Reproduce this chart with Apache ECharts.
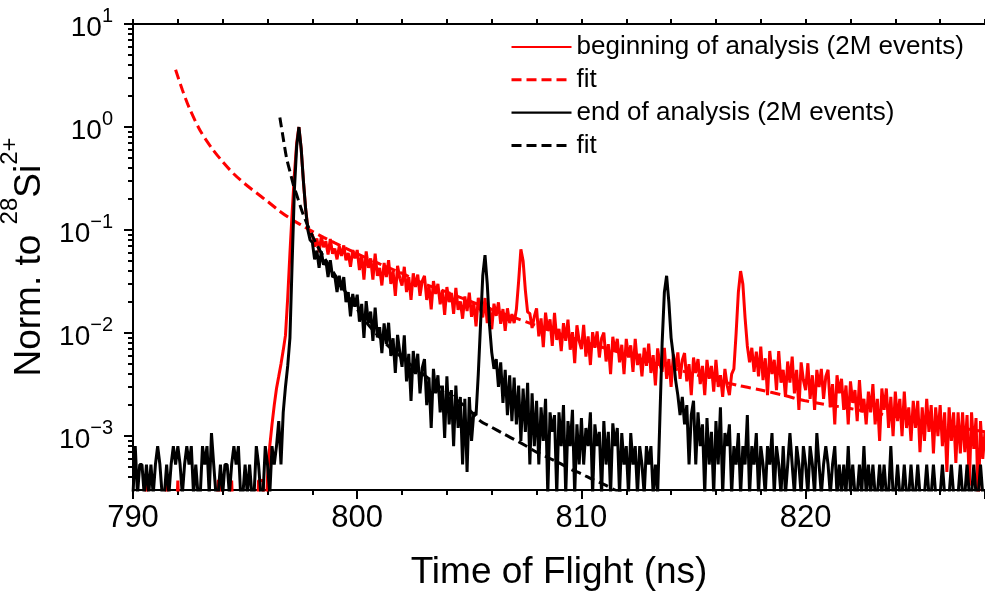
<!DOCTYPE html>
<html><head><meta charset="utf-8">
<script src="https://cdn.jsdelivr.net/npm/echarts@6/dist/echarts.min.js"></script>
<style>html,body{margin:0;padding:0;background:#fff}#c{width:985px;height:592px}</style>
</head><body><div id="c"></div>
<script>
// ---- time-of-flight bins (ns) ----
const tofStart = 790.0;
const tofStep = 0.1;

// ---- "beginning of analysis (2M events)" normalised counts, one per 0.1 ns bin, 790.0 .. 828.0 ----
const beginCounts = [
0,0,0,0,0,0,0.00037,0,0,0,
0,0,0,0,0,0.00037,0,0,0,0,
0.00037,0,0,0,0,0,0,0,0,0,
0,0,0,0,0,0,0,0,0.00037,0.00037,
0,0,0,0,0.00037,0,0,0,0,0,
0,0,0,0,0,0,0.00037,0.00037,0.00037,0,
0.0004,0.0008,0.0013,0.002,0.0029,0.0038,0.005,0.0068,0.0095,0.022,
0.06,0.15,0.35,0.7,1.0,0.62,0.3,0.16,0.105,0.09,
0.091,0.069,0.083,0.061,0.087,0.068,0.078,0.058,0.082,0.059,
0.066,0.052,0.07,0.056,0.071,0.051,0.06,0.044,0.064,0.053,
0.064,0.041,0.057,0.033,0.062,0.043,0.053,0.033,0.059,0.036,
0.043,0.029,0.048,0.035,0.051,0.03,0.04,0.023,0.045,0.034,
0.029,0.044,0.025,0.035,0.021,0.038,0.028,0.037,0.023,0.032,
0.036,0.021,0.029,0.017,0.032,0.024,0.03,0.019,0.026,0.015,
0.028,0.02,0.0246,0.0154,0.0275,0.0168,0.0203,0.0138,0.0227,0.0164,
0.0247,0.0144,0.0195,0.0116,0.022,0.0167,0.0142,0.0219,0.0125,0.0178,
0.0109,0.0193,0.0147,0.0199,0.0123,0.0171,0.0105,0.0174,0.0125,0.0153,
0.0125,0.017,0.032,0.065,0.05,0.026,0.016,0.0155,0.0112,0.0145,
0.0174,0.0093,0.0139,0.0073,0.0158,0.0105,0.0136,0.0075,0.0157,0.0086,
0.011,0.0067,0.0125,0.0084,0.0135,0.0069,0.0102,0.0051,0.0119,0.0084,
0.007,0.012,0.0059,0.0093,0.0049,0.0102,0.0072,0.0104,0.0058,0.0089,
0.0101,0.0053,0.0078,0.004,0.0092,0.0066,0.0088,0.0052,0.0077,0.004,
0.0088,0.0058,0.0076,0.0042,0.0088,0.0049,0.0063,0.0038,0.0072,0.0048,
0.0079,0.0041,0.0061,0.0031,0.0071,0.005,0.0042,0.0072,0.0036,0.0056,
0.003,0.0062,0.0044,0.0065,0.0036,0.0055,0.0064,0.0034,0.005,0.0025,
0.0058,0.0041,0.0056,0.0032,0.0048,0.0025,0.0055,0.0036,0.0048,0.0027,
0.0055,0.003,0.0039,0.0024,0.0045,0.0031,0.0025,0.004,0.0045,0.010,
0.025,0.04,0.03,0.014,0.0075,0.0052,0.0072,0.0042,0.0066,0.0038,
0.0074,0.0035,0.0057,0.0025,0.0067,0.004,0.0055,0.0028,0.0067,0.0033,
0.0044,0.0024,0.0053,0.0033,0.0059,0.0026,0.0044,0.0018,0.0052,0.0035,
0.0028,0.0051,0.0023,0.0039,0.0018,0.0044,0.003,0.0045,0.0023,0.0038,
0.0044,0.0019,0.0032,0.0013,0.0039,0.0026,0.0036,0.0018,0.0031,0.0013,
0.0034,0.0021,0.0028,0.0014,0.0035,0.0017,0.0023,0.0013,0.0027,0.0017,
0.0032,0.0013,0.0023,0.0009,0.0029,0.0018,0.0029,0.0012,0.0024,0.001,
0.0027,0.0014,0.0023,0.001,0.0027,0.0012,0.0019,0.0009,0.0022,0.0012,
0.0022,0.0007,0.0019,0.0009,0.0023,0.0011,0.002,0.00068,0.0019,0.001,
0.002,0.0008,0.0017,0.00045,0.0019,0.0009,0.0017,0.00055,0.0017,0.00068,
0.0017,0.0007,0.0016,0.00033,0.0017,0.00075,0.0015,0.0002,0.0014,0.0006,
0.0011
];

// ---- "end of analysis (2M events)" normalised counts, same bins ----
const endCounts = [
0.00027,0.0008,0.00027,0.00053,0.00053,0.00027,0.00053,0.00027,0.00053,0.00027,
0.00053,0.0008,0.00053,0.00027,0.00027,0.00053,0.00027,0.00053,0.0008,0.00053,
0.0008,0.00053,0.00027,0.00053,0.0008,0.00053,0.0008,0.00027,0.00053,0.00027,
0.00027,0.0008,0.00053,0.0008,0.00027,0.00107,0.00053,0.00027,0.00027,0.00053,
0.00027,0.00053,0.00053,0.00027,0.00053,0.0008,0.00053,0.0008,0.00027,0.00027,
0.00053,0.00027,0.00053,0.00027,0.00027,0.0008,0.00053,0.00027,0.00027,0.0008,
0.00053,0.00027,0.0008,0.00053,0.0008,0.0014,0.00053,0.0017,0.003,0.0048,
0.009,0.05,0.25,0.65,1.0,0.62,0.3,0.16,0.1,0.08,
0.076,0.052,0.063,0.043,0.062,0.046,0.051,0.035,0.051,0.035,
0.036,0.025,0.036,0.026,0.035,0.02,0.025,0.0145,0.024,0.018,
0.0236,0.0129,0.0192,0.009,0.0204,0.0125,0.0162,0.0084,0.0177,0.0091,
0.0114,0.0064,0.0124,0.0078,0.0126,0.006,0.0089,0.0041,0.0096,0.0065,
0.0047,0.0095,0.0034,0.0063,0.0022,0.0067,0.004,0.0063,0.0026,0.0046,
0.0056,0.002,0.0037,0.0012,0.0045,0.0026,0.0039,0.0017,0.0031,0.00096,
0.0038,0.0013,0.0028,0.0008,0.0031,0.0012,0.0024,0.00053,0.0023,0.00045,
0.0024,0.0009,0.0017,0.0016,0.004,0.012,0.036,0.057,0.03,0.012,
0.0065,0.0045,0.0056,0.003,0.0052,0.0021,0.0044,0.0016,0.0039,0.0014,
0.0037,0.0013,0.0031,0.0009,0.0029,0.0011,0.0033,0.00053,0.0026,0.0008,
0.0022,0.00053,0.0019,0.0009,0.0023,0.00027,0.0017,0.0011,0.0016,0.00027,
0.0017,0.0008,0.002,0.00027,0.0014,0.0008,0.0018,0.00027,0.0013,0.00053,
0.0015,0.00053,0.0012,0.0008,0.0017,0.00027,0.0013,0.0008,0.0011,0.00027,
0.0014,0.00053,0.0011,0.00027,0.00133,0.0008,0.0012,0.00027,0.00107,0.00053,
0.0008,0.00027,0.00107,0.00053,0.0008,0.00027,0.0008,0.00053,0.00027,0.0008,
0.00053,0.0008,0.00027,0.00053,0.00027,0.0015,0.008,0.025,0.036,0.02,
0.009,0.006,0.0035,0.0025,0.0016,0.0024,0.0013,0.002,0.00053,0.0016,
0.0022,0.00053,0.0017,0.0008,0.0013,0.00027,0.0015,0.00053,0.0011,0.00027,
0.0014,0.00053,0.0019,0.00027,0.00107,0.0008,0.0013,0.00027,0.0008,0.00053,
0.00107,0.00027,0.0008,0.00053,0.0016,0.00027,0.0008,0.00053,0.00107,0.00027,
0.0008,0.00053,0.00027,0.0008,0.00053,0.00107,0.00027,0.0008,0.00053,0.00027,
0.0008,0.00027,0.00053,0.00107,0.00053,0.00027,0.0008,0.00053,0.00027,0.0008,
0.00053,0.00027,0.0008,0.00053,0.00027,0.00107,0.00053,0.00027,0.00053,0.0008,
0.00053,0.00027,0.00053,0.0008,0.00027,0.00053,0.00027,0.00053,0.00027,0.0008,
0.00027,0.00053,0.00027,0.00027,0.00053,0.00027,0.0008,0.00027,0.00053,0.00027,
0.00053,0.00027,0.00027,0.00053,0.00027,0.00053,0.00027,0.00027,0.0008,0.00027,
0.00027,0.00053,0.00027,0.00027,0.00053,0.00027,0.00027,0.00053,0.00027,0.00027,
0.00053,0.00027,0.00027,0.00027,0.00053,0.00027,0.00027,0.00053,0.00027,0.00027,
0.00027,0.00053,0.00027,0.00027,0.00027,0.00053,0.00027,0.00027,0.00027,0.00053,
0.00027,0.00027,0.00053,0.00027,0.00027,0.00053,0.00027,0.00027,0.00053,0.00027,
0.00027
];

// ---- fit curves ----
const beginFitTof = [791.9,792.2,792.5,793.0,793.5,794.0,794.5,795.0,795.5,796.0,796.5,797.0,797.5,798.0,798.5,799.0,800,801,802,803,804,805,806,807,808,809,810,811,812,813,814,815,816,817,818,819,820,822,824,826,828];
const beginFitVal = [3.6,2.3,1.55,0.92,0.63,0.46,0.35,0.28,0.23,0.19,0.155,0.13,0.112,0.097,0.085,0.075,0.059,0.047,0.038,0.030,0.025,0.0205,0.017,0.0142,0.0118,0.0099,0.0084,0.0072,0.0062,0.0053,0.0046,0.0040,0.0035,0.0031,0.0028,0.0025,0.0022,0.00185,0.00155,0.0013,0.0011];
const endFitTof = [796.55,796.7,796.85,797.0,797.15,797.3,797.44,797.6,797.8,798.0,798.2,798.5,798.9,799.3,799.7,800.0,800.4,800.7,801.2,801.6,802.0,802.5,803.0,803.5,804.0,804.5,805.0,805.5,806.0,806.5,807.0,807.5,808.0,808.5,809.0,809.5,810.0,810.5,811.0,811.5,812.0];
const endFitVal = [1.24,0.78,0.5,0.37,0.277,0.22,0.177,0.14,0.11,0.088,0.072,0.055,0.04,0.029,0.021,0.017,0.0128,0.0107,0.0082,0.0068,0.0058,0.0047,0.0039,0.0032,0.0027,0.0022,0.0018,0.0014,0.00122,0.00106,0.00093,0.00081,0.0007,0.00062,0.00055,0.00048,0.00043,0.00038,0.00034,0.0003,0.00027];

// ---- axis ticks & labels ----
const yDecades = [0.001, 0.01, 0.1, 1, 10];
const yMinor = [0.0004,0.0005,0.0006,0.0007,0.0008,0.0009,
  0.002,0.003,0.004,0.005,0.006,0.007,0.008,0.009,
  0.02,0.03,0.04,0.05,0.06,0.07,0.08,0.09,
  0.2,0.3,0.4,0.5,0.6,0.7,0.8,0.9,
  2,3,4,5,6,7,8,9];
const seriesLabels = ['beginning of analysis (2M events)', 'fit', 'end of analysis (2M events)', 'fit'];
const seriesIds = ['begin', 'beginFit', 'end', 'endFit'];

const FONT = '"Liberation Sans", Arial, sans-serif';
const LOG_FLOOR = 1e-4; // zero-count bins are drawn below the axis floor

function binPairs(vals) {
  return vals.map((v, i) => [Math.round((tofStart + i * tofStep) * 100) / 100, v > 0 ? v : LOG_FLOOR]);
}
function zip(xs, ys) { return xs.map((x, i) => [x, ys[i]]); }

const chart = echarts.init(document.getElementById('c'), null, {renderer: 'canvas'});
const black = '#000000', red = '#ff0000';
const axisLineStyle = {color: black, width: 2};
const labelOf = {};
seriesIds.forEach((id, i) => { labelOf[id] = seriesLabels[i]; });

const option = {
  animation: false,
  backgroundColor: '#ffffff',
  textStyle: {fontFamily: FONT},
  grid: {left: 133, top: 24, width: 852, height: 466, show: false, containLabel: false, outerBoundsMode: 'none'},
  legend: {
    orient: 'vertical', left: 510, top: 34, padding: 0,
    itemWidth: 60, itemHeight: 26, itemGap: 6.8,
    selectedMode: false,
    itemStyle: {opacity: 0},
    lineStyle: {width: 'inherit'},
    textStyle: {fontSize: 26, color: black, fontFamily: FONT, lineHeight: 26},
    formatter: n => labelOf[n],
    data: [
      {name: 'begin', lineStyle: {width: 2.2}},
      {name: 'beginFit', lineStyle: {width: 3}},
      {name: 'end', lineStyle: {width: 2.2}},
      {name: 'endFit', lineStyle: {width: 3}}
    ]
  },
  xAxis: [{
    type: 'value', min: 790, max: 828, interval: 10, position: 'bottom',
    name: 'Time of Flight (ns)', nameLocation: 'middle', nameGap: 64,
    nameTextStyle: {fontSize: 37, color: black, fontFamily: FONT},
    axisLine: {show: true, onZero: false, lineStyle: axisLineStyle},
    axisTick: {show: true, inside: false, length: 9, lineStyle: axisLineStyle},
    minorTick: {show: true, splitNumber: 5, length: 5, lineStyle: axisLineStyle},
    axisLabel: {fontSize: 31, color: black, margin: 13, showMaxLabel: false, fontFamily: FONT},
    splitLine: {show: false}, minorSplitLine: {show: false}
  }, {
    type: 'value', min: 790, max: 828, interval: 2, position: 'top',
    axisLine: {show: true, onZero: false, lineStyle: axisLineStyle},
    axisTick: {show: true, inside: false, length: 5, lineStyle: axisLineStyle},
    axisLabel: {show: false}, splitLine: {show: false}
  }],
  yAxis: [{
    type: 'log', logBase: 10, min: 0.0003, max: 10, position: 'left',
    name: '{b|Norm. to }{s|28}{b|Si}{s|2+}', nameLocation: 'middle', nameGap: 64, nameRotate: 90,
    nameTextStyle: {color: black, fontFamily: FONT, rich: {
      b: {fontSize: 37, color: black, fontFamily: FONT, lineHeight: 50, verticalAlign: 'bottom'},
      s: {fontSize: 24, color: black, fontFamily: FONT, lineHeight: 26, verticalAlign: 'top'}
    }},
    axisLine: {show: true, onZero: false, lineStyle: axisLineStyle},
    axisTick: {show: true, inside: false, length: 9, lineStyle: axisLineStyle, customValues: yDecades},
    axisLabel: {
      customValues: yDecades, margin: 20, color: black,
      formatter: v => {
        const e = Math.round(Math.log10(v));
        return '{b|10}{s|' + (e < 0 ? '\u2212' + (-e) : e) + '}';
      },
      rich: {
        b: {fontSize: 28, color: black, fontFamily: FONT, lineHeight: 36, verticalAlign: 'bottom'},
        s: {fontSize: 20, color: black, fontFamily: FONT, lineHeight: 20, verticalAlign: 'top'}
      }
    },
    splitLine: {show: false}
  }, {
    type: 'log', logBase: 10, min: 0.0003, max: 10, position: 'left',
    axisLine: {show: false},
    axisTick: {show: true, inside: false, length: 5, lineStyle: axisLineStyle, customValues: yMinor},
    axisLabel: {show: false}, splitLine: {show: false}
  }],
  series: [
    {name: 'begin', type: 'line', data: binPairs(beginCounts), symbol: 'none', clip: true, z: 2,
     lineStyle: {color: red, width: 3}, itemStyle: {color: red}},
    {name: 'beginFit', type: 'line', data: zip(beginFitTof, beginFitVal), symbol: 'none', clip: true, z: 3,
     smooth: 0.3, lineStyle: {color: red, width: 3, type: [10, 5]}, itemStyle: {color: red}},
    {name: 'end', type: 'line', data: binPairs(endCounts), symbol: 'none', clip: true, z: 4,
     lineStyle: {color: black, width: 3}, itemStyle: {color: black}},
    {name: 'endFit', type: 'line', data: zip(endFitTof, endFitVal), symbol: 'none', clip: true, z: 5,
     smooth: 0.3, lineStyle: {color: black, width: 3, type: [10, 5]}, itemStyle: {color: black}}
  ]
};
chart.setOption(option);
</script>
</body></html>
